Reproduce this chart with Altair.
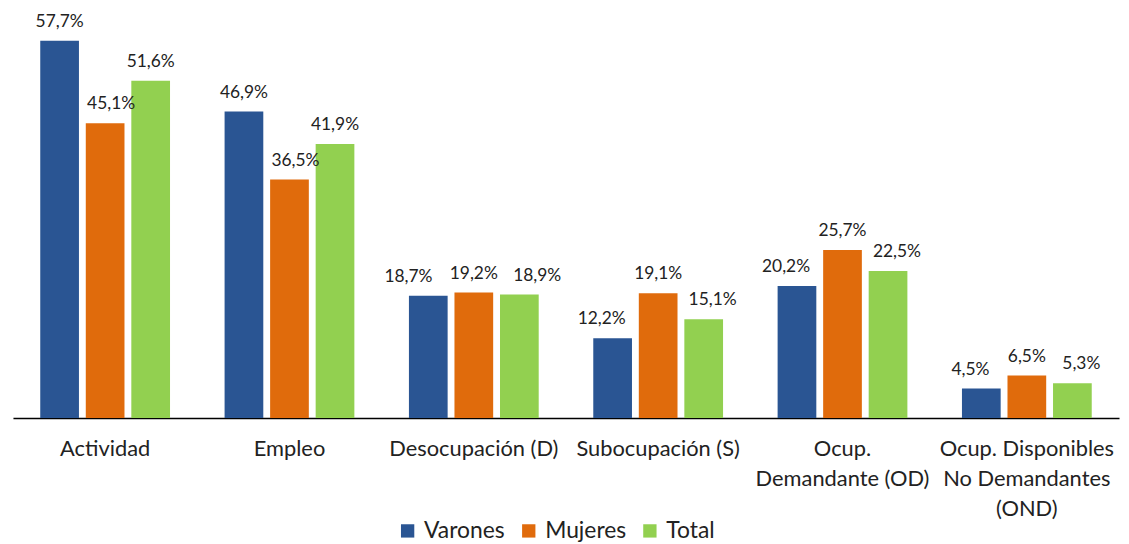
import altair as alt
import pandas as pd

categories = ["Actividad", "Empleo", "Desocupación (D)", "Subocupación (S)",
              "Ocup.|Demandante (OD)", "Ocup. Disponibles|No Demandantes|(OND)"]
series = ["Varones", "Mujeres", "Total"]
varones = [57.7, 46.9, 18.7, 12.2, 20.2, 4.5]
mujeres = [45.1, 36.5, 19.2, 19.1, 25.7, 6.5]
total = [51.6, 41.9, 18.9, 15.1, 22.5, 5.3]
colors = ["#2A5593", "#E06B0C", "#92D050"]

rows = []
for s, vals in zip(series, [varones, mujeres, total]):
    for c, v in zip(categories, vals):
        rows.append({"cat": c, "serie": s, "valor": v,
                     "etiqueta": f"{v:.1f}".replace(".", ",") + "%"})
df = pd.DataFrame(rows)

FONT = "Lato"

x = alt.X("cat:N", sort=categories, title=None,
          scale=alt.Scale(paddingInner=0.296, paddingOuter=0.148),
          axis=alt.Axis(labelAngle=0, ticks=False, domainColor="#000000",
                        domainWidth=1.5, labelFontSize=22, labelColor="#222222",
                        labelFont=FONT, labelPadding=21, labelLineHeight=30,
                        labelExpr="split(datum.label, '|')", labelLimit=300))
xo = alt.XOffset("serie:N", sort=series,
                 scale=alt.Scale(paddingInner=0.15, paddingOuter=0))
y = alt.Y("valor:Q", scale=alt.Scale(domain=[0, 60], nice=False), axis=None)

bars = alt.Chart(df).mark_bar().encode(
    x=x, xOffset=xo, y=y,
    color=alt.Color("serie:N", sort=series,
                    scale=alt.Scale(domain=series, range=colors),
                    legend=alt.Legend(title=None, orient="none", direction="horizontal",
                                      legendX=386, legendY=497,
                                      symbolType="square", symbolSize=180,
                                      symbolStrokeWidth=0,
                                      labelFontSize=23, labelFont=FONT,
                                      labelColor="#222222", columnPadding=12,
                                      labelOffset=5))
)


def label_layer(filter_expr, dx):
    return alt.Chart(df).transform_filter(filter_expr).mark_text(
        baseline="bottom", dy=-10, dx=dx, fontSize=17.5, font=FONT, color="#222222"
    ).encode(x=x, xOffset=xo, y=y, text="etiqueta:N")


first_two = "indexof(['Actividad','Empleo'], datum.cat) >= 0"
deso = "datum.cat == 'Desocupación (D)'"
rest = "indexof(['Actividad','Empleo','Desocupación (D)'], datum.cat) < 0"

labels = alt.layer(
    label_layer(f"{first_two} && datum.serie != 'Mujeres'", 0),
    label_layer(f"{first_two} && datum.serie == 'Mujeres'", 6),
    label_layer(f"!({first_two}) && datum.serie == 'Mujeres'", 0),
    label_layer(f"{deso} && datum.serie == 'Varones'", -20),
    label_layer(f"{deso} && datum.serie == 'Total'", 18),
    label_layer(f"{rest} && datum.serie == 'Varones'", -11),
    label_layer(f"{rest} && datum.serie == 'Total'", 9),
)

chart = alt.layer(bars, labels).properties(
    width=1114, height=395,
    autosize=alt.AutoSizeParams(type="none"),
    padding={"left": 5, "top": 16, "right": 2, "bottom": 125},
).configure_view(stroke=None)

chart.save("out.html", embed_options={"renderer": "svg", "actions": False})
